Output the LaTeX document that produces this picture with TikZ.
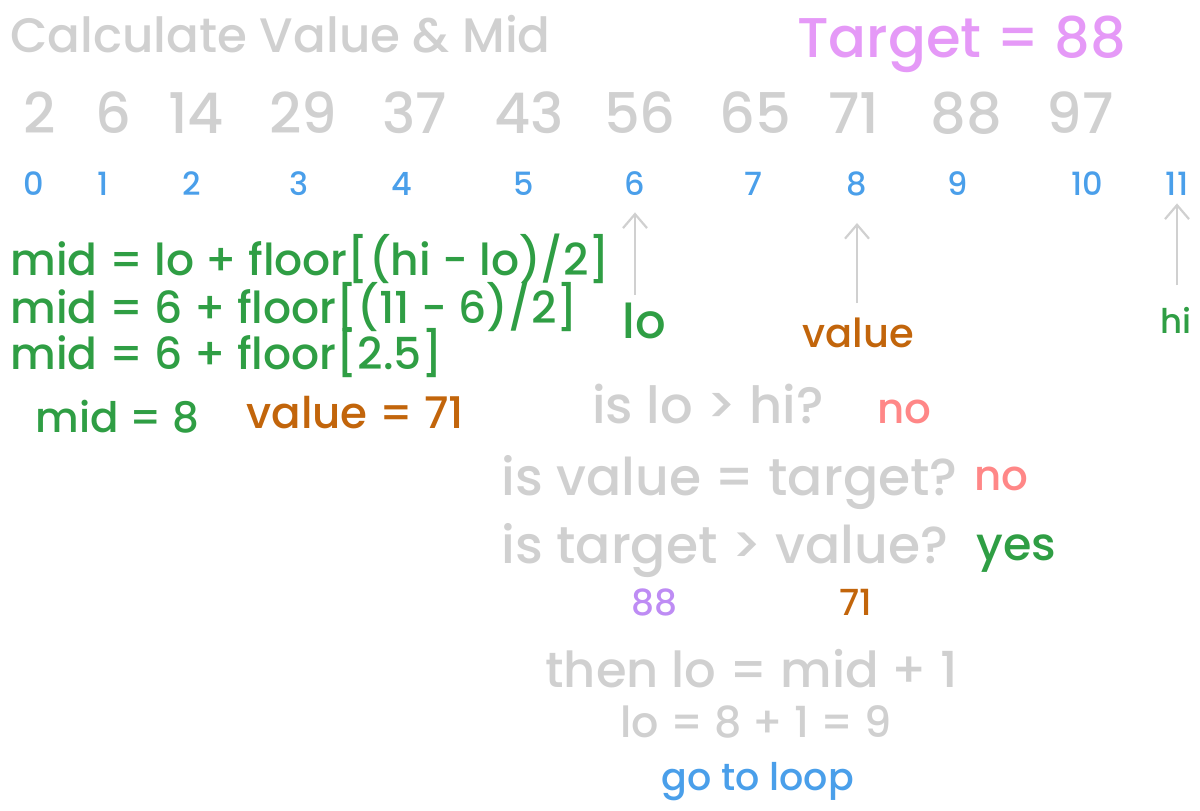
\documentclass[tikz,border=0pt]{standalone}
\usepackage{fontspec}
\setmainfont{Poppins}[UprightFont=* Medium]
\usetikzlibrary{arrows.meta}
\definecolor{pale}{HTML}{D0D0D0}
\definecolor{violet}{HTML}{E599F7}
\definecolor{lavender}{HTML}{BE8CF4}
\definecolor{idxblue}{HTML}{4A9FEA}
\definecolor{calcgreen}{HTML}{2F9E44}
\definecolor{rust}{HTML}{C2650B}
\definecolor{salmon}{HTML}{FF8787}
\tikzset{
	every node/.style= {
		inner sep=0pt,
		anchor=base
	},
	note/.style= {
		pale,
		anchor=base west
	},
	num/.style= {
		pale,
		font=\fontsize{28}{30}\selectfont
	},
	index/.style= {
		idxblue,
		font=\fontsize{16}{18}\selectfont
	},
	calc/.style= {
		calcgreen,
		anchor=base west,
		font=\fontsize{22}{24}\selectfont
	},
	pointer/.style= {
		pale,
		line width=1.1pt,
		-{Straight Barb[length=7pt, width=12pt]}
	}
}

\begin{document}
\begin{tikzpicture}[x=0.5pt, y=-0.5pt]
	\useasboundingbox (0,0) rectangle (1200,810);
	
	\node (title)[note, font=\fontsize{24.2}{26}\selectfont] at (10,52) {Calculate Value \& Mid};
	\node (target)[violet, anchor=base west, font=\fontsize{28}{30}\selectfont] at (797,57) {Target = 88};
	
	% the sorted list and its indices
	\foreach \v/\x [count=\i from 0] in {2/40, 6/113, 14/196, 29/303, 37/415, 43/529, 56/640, 65/755, 71/854, 88/966, 97/1080}
		\node (n\i)[num] at (\x,133) {\v};
	\foreach \x [count=\i from 0] in {34, 103, 192, 299, 402, 524, 635, 753, 857, 958, 1087, 1177}
		\node (i\i)[index] at (\x,195) {\i};
	
	% pointers
	\node (lo)[calcgreen, font=\fontsize{24}{26}\selectfont] at (644,338) {lo};
	\node (value)[rust, font=\fontsize{20}{22}\selectfont] at (858,347) {value};
	\node (hi)[calcgreen, font=\fontsize{17}{19}\selectfont] at (1176,333) {hi};
	\draw[pointer, shorten <=3.75pt, shorten >=8.5pt](i6.south |- lo.north) to (i6.south);
	\draw[pointer, shorten <=7pt, shorten >=13.5pt](i8.south |- value.north) to (i8.south);
	\draw[pointer, shorten <=10.5pt, shorten >=4pt](i11.south |- hi.north) to (i11.south);
	
	% mid computation
	\node (mid1)[calc] at (10,275) {mid = lo + floor[(hi - lo)/2]};
	\node (mid2)[calc] at (10,323) {mid = 6 + floor[(11 - 6)/2]};
	\node (mid3)[calc] at (10,369) {mid = 6 + floor[2.5]};
	\node (mid4)[calc, font=\fontsize{21}{23}\selectfont] at (35,432) {mid = 8};
	\node (val)[rust, anchor=base west, font=\fontsize{21.8}{24}\selectfont] at (246,428) {value = 71};
	
	% checks
	\node (q1)[note, font=\fontsize{25.6}{28}\selectfont] at (592,423) {is lo > hi?};
	\node (a1)[salmon, anchor=base west, font=\fontsize{21}{23}\selectfont] at (877,423) {no};
	\node (q2)[note, font=\fontsize{26}{28}\selectfont] at (501,495) {is value = target?};
	\node (a2)[salmon, anchor=base west, font=\fontsize{21}{23}\selectfont] at (974,490) {no};
	\node (q3)[note, font=\fontsize{26}{28}\selectfont] at (501,563) {is target > value?};
	\node (a3)[calcgreen, anchor=base west, font=\fontsize{23}{25}\selectfont] at (976,560) {yes};
	\node (t88)[lavender, font=\fontsize{18}{20}\selectfont] at (654,615) {88};
	\node (t71)[rust, font=\fontsize{18}{20}\selectfont] at (856,615) {71};
	
	% update
	\node (then)[note, font=\fontsize{24.8}{27}\selectfont] at (545,687) {then lo = mid + 1};
	\node (step9)[note, font=\fontsize{21.4}{23}\selectfont] at (620,737) {lo = 8 + 1 = 9};
	\node (loop)[idxblue, anchor=base west, font=\fontsize{19}{21}\selectfont] at (661,790) {go to loop};
	
\end{tikzpicture}
\end{document}
